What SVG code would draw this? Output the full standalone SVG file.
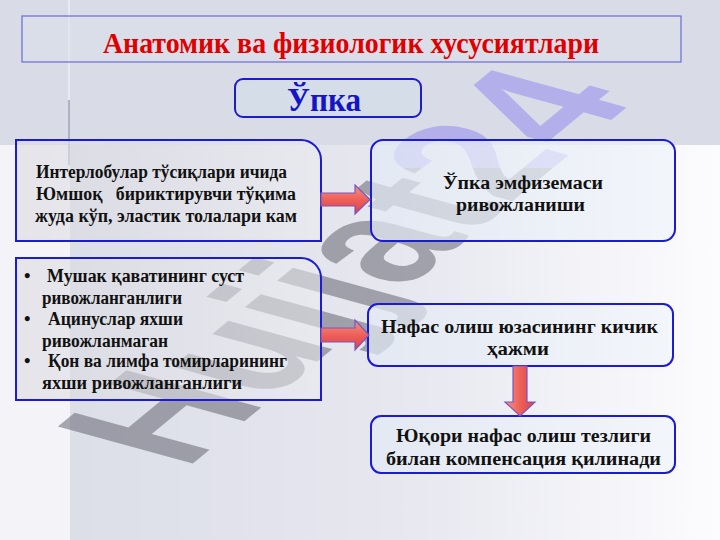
<svg xmlns="http://www.w3.org/2000/svg" xmlns:xlink="http://www.w3.org/1999/xlink" width="720" height="540" viewBox="0 0 720 540">
<style>
.t{font-family:"Liberation Serif","Times New Roman",serif;font-weight:bold;fill:#111;}
.box{stroke:#1a1ad8;stroke-width:2;}
.gbox{fill:url(#gGray);}
.bbox{fill:url(#gBlue);}
.arrow{stroke:#7a56c0;stroke-width:1.2;}
.wm{font-family:"Liberation Sans",Arial,sans-serif;font-weight:bold;font-size:100px;}
</style>
<defs>
<linearGradient id="gBg" x1="0" y1="0" x2="1" y2="0">
<stop offset="0" stop-color="#dcdee8"/>
<stop offset="0.5" stop-color="#e6e7ef"/>
<stop offset="1" stop-color="#fcfcfe"/>
</linearGradient>
<linearGradient id="gGray" x1="0" y1="0" x2="1" y2="0">
<stop offset="0" stop-color="#d8d8de" stop-opacity="0.55"/>
<stop offset="1" stop-color="#ececf0" stop-opacity="0.55"/>
</linearGradient>
<linearGradient id="gBlue" x1="0" y1="0" x2="1" y2="0">
<stop offset="0" stop-color="#e2eaf4" stop-opacity="0.7"/>
<stop offset="1" stop-color="#f0f4fa" stop-opacity="0.7"/>
</linearGradient>
<linearGradient id="gArrH" x1="0" y1="0" x2="0" y2="1">
<stop offset="0" stop-color="#f49484"/>
<stop offset="0.5" stop-color="#ee6058"/>
<stop offset="1" stop-color="#d8404c"/>
</linearGradient>
<linearGradient id="gArrV" x1="0" y1="0" x2="1" y2="0">
<stop offset="0" stop-color="#f49484"/>
<stop offset="0.5" stop-color="#ee6058"/>
<stop offset="1" stop-color="#d8404c"/>
</linearGradient>
<clipPath id="clipTop"><rect x="0" y="0" width="720" height="168"/></clipPath>
<clipPath id="clipBot"><rect x="0" y="168" width="720" height="372"/></clipPath>
<text id="wm" class="wm" x="0" y="0" transform="matrix(1.164 -0.956 1.96 0.54 185 470)">Hujjat24</text>
</defs>

<!-- background -->
<rect x="0" y="0" width="720" height="540" fill="#f3f3f8"/>
<rect x="70" y="145" width="650" height="395" fill="url(#gBg)"/>
<rect x="0" y="0" width="720" height="145" fill="#d9dce6"/>
<line x1="69" y1="0" x2="69" y2="100" stroke="#f4f4fa" stroke-width="1.5" opacity="0.8"/>
<line x1="69" y1="100" x2="69" y2="165" stroke="#8a8ea8" stroke-width="1.5" opacity="0.7"/>
<line x1="30" y1="143" x2="105" y2="143" stroke="#f4f4fa" stroke-width="1" opacity="0.7"/>

<!-- watermark -->
<g id="watermark">
<g clip-path="url(#clipTop)"><use xlink:href="#wm" href="#wm" fill="#8c84f0" opacity="0.5"/></g>
<g clip-path="url(#clipBot)"><use xlink:href="#wm" href="#wm" fill="#5c5c68" opacity="0.5"/></g>
</g>

<g id="title">
<rect x="22" y="16" width="659" height="46" fill="#dcdfe9" fill-opacity="0.5" stroke="#6a6ad8" stroke-width="1.2"/>
<text class="t" x="351" y="53" text-anchor="middle" font-size="29" style="fill:#e00000" textLength="496" lengthAdjust="spacingAndGlyphs">Анатомик ва физиологик хусусиятлари</text>
</g>

<g id="upka">
<rect x="235" y="79" width="186" height="38" rx="8" fill="#d5dde8" stroke="#1c1ccc" stroke-width="2"/>
<text class="t" x="324" y="111" text-anchor="middle" font-size="34" style="fill:#1414c8" textLength="74" lengthAdjust="spacingAndGlyphs">Ўпка</text>
</g>

<g id="node-interlobular">
<path class="box gbox" d="M16,140 H301 A20,20 0 0 1 321,160 V241 H16 Z"/>
<text class="t" font-size="18.5">
<tspan x="36" y="178" textLength="251" lengthAdjust="spacingAndGlyphs">Интерлобулар тўсиқлари ичида</tspan>
</text>
<text class="t" font-size="18.5" xml:space="preserve" style="white-space:pre"><tspan x="36" y="200" textLength="260" lengthAdjust="spacingAndGlyphs">Юмшоқ   бириктирувчи тўқима</tspan></text>
<text class="t" font-size="18.5">
<tspan x="35" y="222" textLength="262" lengthAdjust="spacingAndGlyphs">жуда кўп, эластик толалари кам</tspan>
</text>
</g>

<g id="node-emphysema">
<rect class="box bbox" x="371" y="140" width="304" height="101" rx="12"/>
<text class="t" font-size="18.5">
<tspan x="443" y="189" textLength="160" lengthAdjust="spacingAndGlyphs">Ўпка эмфиземаси</tspan>
<tspan x="456" y="211" textLength="129" lengthAdjust="spacingAndGlyphs">ривожланиши</tspan>
</text>
</g>

<g id="node-features">
<path class="box gbox" d="M16,258 H301 A20,20 0 0 1 321,278 V400 H16 Z"/>
<text class="t" font-size="18.5">
<tspan x="24" y="282">•</tspan>
<tspan x="47" y="282" textLength="197" lengthAdjust="spacingAndGlyphs">Мушак қаватининг суст</tspan>
<tspan x="42" y="304" textLength="140" lengthAdjust="spacingAndGlyphs">ривожланганлиги</tspan>
<tspan x="24" y="325">•</tspan>
<tspan x="48" y="325" textLength="135" lengthAdjust="spacingAndGlyphs">Ацинуслар яхши</tspan>
<tspan x="42" y="347" textLength="126" lengthAdjust="spacingAndGlyphs">ривожланмаган</tspan>
<tspan x="24" y="367">•</tspan>
<tspan x="48" y="367" textLength="239" lengthAdjust="spacingAndGlyphs">Қон ва лимфа томирларининг</tspan>
<tspan x="42" y="389" textLength="200" lengthAdjust="spacingAndGlyphs">яхши ривожланганлиги</tspan>
</text>
</g>

<g id="node-surface">
<rect class="box bbox" x="368" y="304" width="305" height="62" rx="10"/>
<text class="t" font-size="18.5">
<tspan x="381" y="333" textLength="277" lengthAdjust="spacingAndGlyphs">Нафас олиш юзасининг кичик</tspan>
<tspan x="487" y="355" textLength="62" lengthAdjust="spacingAndGlyphs">ҳажми</tspan>
</text>
</g>

<g id="node-compensation">
<rect class="box bbox" x="371" y="416" width="304" height="57" rx="10"/>
<text class="t" font-size="18.5">
<tspan x="396" y="442" textLength="255" lengthAdjust="spacingAndGlyphs">Юқори нафас олиш тезлиги</tspan>
<tspan x="386" y="465" textLength="275" lengthAdjust="spacingAndGlyphs">билан компенсация қилинади</tspan>
</text>
</g>

<g id="connectors">
<polygon class="arrow" fill="url(#gArrH)" points="321,193 355,193 355,185 370,199.5 355,214 355,206 321,206"/>
<polygon class="arrow" fill="url(#gArrH)" points="321,328 355,328 355,320 369,335 355,350 355,342 321,342"/>
<polygon class="arrow" fill="url(#gArrV)" points="513,366 527,366 527,402 535,402 520,416 505,402 513,402"/>
</g>
</svg>
